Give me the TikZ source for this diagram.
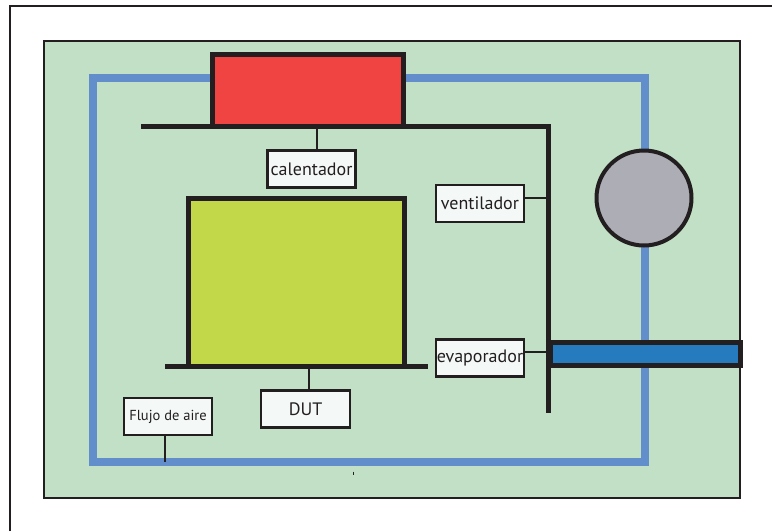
\documentclass[tikz,border=0pt]{standalone}
\usepackage{fontspec}
\setmainfont{PT Sans}
\usetikzlibrary{positioning, calc}

\definecolor{fondo}{RGB}{194,224,197}
\definecolor{aire}{RGB}{98,143,204}
\definecolor{calor}{RGB}{239,68,66}
\definecolor{dutcol}{RGB}{195,216,73}
\definecolor{ventcol}{RGB}{173,173,181}
\definecolor{evapcol}{RGB}{38,122,190}
\definecolor{etiq}{RGB}{244,248,246}
\definecolor{linea}{RGB}{35,31,32}

\tikzset{
    etiqueta/.style={draw=linea, line width=2.5pt, fill=etiq, text=linea, inner sep=0pt,
        minimum width=88pt, minimum height=37pt, font=\fontsize{18}{18}\selectfont},
    barra/.style={draw=linea, line width=5pt},
    enlace/.style={draw=linea, line width=2pt},
}

\begin{document}
\begin{tikzpicture}[x=1pt, y=-1pt]
        \useasboundingbox (0,0) rectangle (772,531);
        \draw[linea, line width=2pt] (10,531) -- (10,6) -- (772,6);
        \draw[draw=linea, line width=2pt, fill=fondo] (44,41) rectangle (740,498);
        
        % circuito de aire
        \draw[aire, line width=8pt] (93,78) rectangle (645,462);
        
        \draw[barra, fill=calor] (212.5,54.5) rectangle (403.5,126);
        \draw[barra] (141,126) -- (550.5,126);
        \draw[barra] (548,126) -- (548,413);
        \draw[barra, fill=dutcol] (188.5,366) -- (188.5,198.5) -- (404.5,198.5) -- (404.5,366);
        \draw[barra] (165,366) -- (428,366);
        \draw[draw=linea, line width=4pt, fill=ventcol] (644,198) circle (47.5);
        \draw[barra, fill=evapcol] (550.5,342.5) rectangle (740.5,365.5);
        \draw[linea, line width=1pt] (353,471.5) -- (353,475);
        
        \node[etiqueta] (calentador) at (311.5,169) {calentador};
        \node[etiqueta] (ventilador) at (480,203.5) {ventilador};
        \node[etiqueta] (evaporador) at (480,358) {evaporador};
        \node[etiqueta, minimum width=89pt] (dut) at (305.5,409) {DUT};
        \node[etiqueta, font=\fontsize{14.5}{14.5}\selectfont] (flujo) at (168,416.5) {Flujo de aire};
        
        \coordinate (c1) at (317,126);
        \coordinate (c2) at (548,198);
        \coordinate (c3) at (548,352);
        \coordinate (c4) at (309,366);
        \coordinate (c5) at (165,462);
        \draw[enlace] (c1) -- (c1 |- calentador.north);
        \draw[enlace] (ventilador.east |- c2) -- (c2);
        \draw[enlace] (evaporador.east |- c3) -- (c3);
        \draw[enlace] (c4) -- (c4 |- dut.north);
        \draw[enlace] (c5 |- flujo.south) -- (c5);
    \end{tikzpicture}
\end{document}
